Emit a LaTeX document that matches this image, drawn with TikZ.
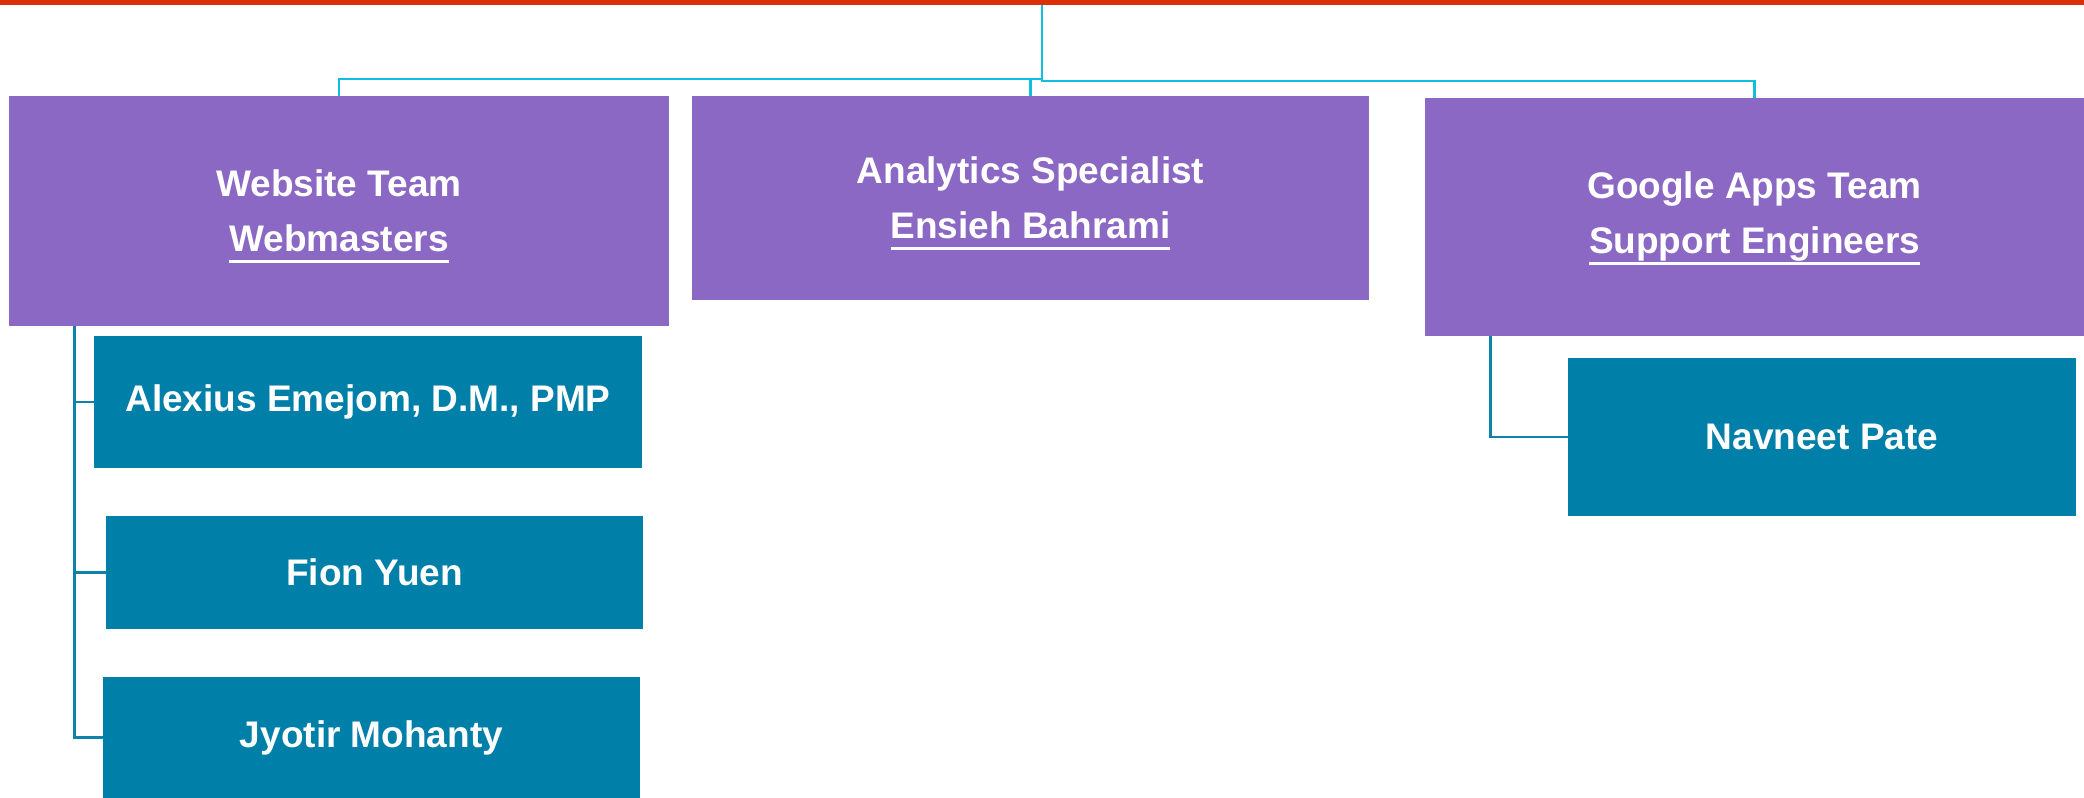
\documentclass[tikz,border=0pt]{standalone}
\usepackage{fontspec}
\setmainfont{Liberation Sans}
\definecolor{barred}{HTML}{DD2E0A}
\definecolor{lnkcyan}{HTML}{10BFE0}
\definecolor{boxpurple}{HTML}{8A68C4}
\definecolor{boxteal}{HTML}{007FA8}
\definecolor{lnkteal}{HTML}{0E82A8}
\newcommand{\myul}[1]{\setbox0\hbox{#1}\leavevmode\rlap{\smash{\rule[-5.5pt]{\wd0}{1.5pt}}}\box0}
\begin{document}
\begin{tikzpicture}[x=0.5pt,y=-0.5pt,
  lbl/.style={inner sep=0pt, text=white, align=center,
    font=\fontsize{18.5}{27.5}\selectfont\bfseries},
  pbox/.style={lbl, fill=boxpurple},
  tbox/.style={lbl, fill=boxteal},
  cline/.style={draw=lnkcyan, line width=1.4pt},
  tline/.style={draw=lnkteal, line width=1.3pt}]
\useasboundingbox (0,0) rectangle (2084,798);
\node[fill=barred, inner sep=0pt, minimum width=1042pt, minimum height=2.5pt, anchor=north west] (bar) at (0,0) {};
\coordinate (hub) at (1042,5);
% level 1
\node[pbox, minimum width=330pt, minimum height=115pt] (web) at (339,211) {Website Team\\\myul{Webmasters}};
\node[pbox, minimum width=338.5pt, minimum height=102pt] (ana) at (1030.5,198) {Analytics Specialist\\\myul{Ensieh Bahrami}};
\node[pbox, minimum width=329.5pt, minimum height=119pt] (gapps) at (1754.5,217) {Google Apps Team\\\myul{Support Engineers}};
% level 2
\node[tbox, minimum width=274pt, minimum height=66pt] (alex) at (368,402) {Alexius Emejom, D.M., PMP};
\node[tbox, minimum width=268.5pt, minimum height=56.5pt] (fion) at (374.5,572.5) {Fion Yuen};
\node[tbox, minimum width=268.5pt, minimum height=60.5pt] (jy) at (371.5,737.5) {Jyotir Mohanty};
\node[tbox, minimum width=254pt, minimum height=79pt] (nav) at (1822,437) {Navneet Pate};
% connectors
\coordinate (jr) at (1042,81);
\coordinate (jl) at (1041,79);
\draw[cline] (hub) -- (jr) -| (gapps.north);
\draw[cline] (jl) -| (web.north);
\draw[cline] (ana.north |- jl) -- (ana.north);
\coordinate (wstem) at ([xshift=33pt]web.south west);
\draw[tline] (wstem) |- (jy.west);
\draw[tline] (wstem |- alex.west) -- (alex.west);
\draw[tline] (wstem |- fion.west) -- (fion.west);
\coordinate (gstem) at ([xshift=33pt]gapps.south west);
\draw[tline] (gstem) |- (nav.west);
\end{tikzpicture}
\end{document}
